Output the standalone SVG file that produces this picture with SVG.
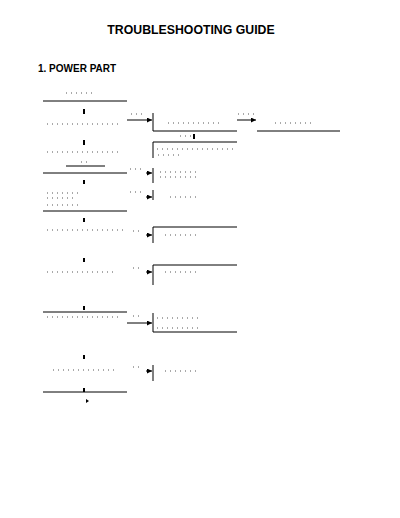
<svg xmlns="http://www.w3.org/2000/svg" width="400" height="518" viewBox="0 0 400 518">
<style>
.ln{stroke:#000;stroke-width:1;fill:none}
.sp{stroke:#555;stroke-width:1;stroke-dasharray:1 4;fill:none}
.dn{fill:#000}
.title{font-family:"Liberation Sans",Arial,sans-serif;font-weight:bold;fill:#000}
</style>
<defs>
<marker id="ah" viewBox="0 0 6 6" refX="6" refY="3" markerWidth="5" markerHeight="5" orient="auto"><path d="M0,0 L6,3 L0,6 z" fill="#000"/></marker>
</defs>
<rect width="400" height="518" fill="#fff"/>
<text class="title" x="191" y="34" font-size="12.3" text-anchor="middle">TROUBLESHOOTING GUIDE</text>
<text class="title" x="38" y="72" font-size="10">1. POWER PART</text>

<g id="left-column">
<g id="L1"><path class="sp" d="M66,93 H95"/><path class="ln" d="M43,101 H127"/></g>
<g id="L2"><rect class="dn" x="83" y="109" width="2" height="5"/><path class="sp" d="M47,124 H120"/></g>
<g id="L3"><rect class="dn" x="83" y="140" width="2" height="5"/><path class="sp" d="M47,152 H120"/><path class="sp" d="M81,162 H88"/><path class="ln" d="M66,166 H105"/><path class="ln" d="M43,173 H127"/></g>
<g id="L4"><rect class="dn" x="83" y="180" width="2" height="4"/><path class="sp" d="M47,193 H78"/><path class="sp" d="M47,198 H75"/><path class="sp" d="M47,205 H80"/><path class="ln" d="M43,211 H127"/></g>
<g id="L5"><rect class="dn" x="83" y="218" width="2" height="4"/><path class="sp" d="M47,230 H127"/></g>
<g id="L6"><rect class="dn" x="83" y="258" width="2" height="4"/><path class="sp" d="M47,272 H117"/></g>
<g id="L7"><rect class="dn" x="83" y="306" width="2" height="4"/><path class="ln" d="M43,312 H127"/><path class="sp" d="M47,317 H118"/></g>
<g id="L8"><rect class="dn" x="83" y="355" width="2" height="4"/><path class="sp" d="M53,370 H115"/></g>
<g id="L9"><rect class="dn" x="83" y="388" width="2" height="4"/><path class="ln" d="M43,392 H127"/><path d="M86,399 L89,401 L86,403 z" fill="#000"/></g>
</g>

<g id="box-A"><path class="ln" d="M153,113 V131 H237"/><path class="sp" d="M168,123 H220"/></g>
<g id="box-R"><path class="ln" d="M257,131 H340"/><path class="sp" d="M275,123 H315"/></g>
<g id="box-B"><path class="ln" d="M153,158 V142 H237"/><path class="ln" d="M153,168 V183"/><path class="ln" d="M153,190 V200"/><path class="sp" d="M180,136 H192"/><rect class="dn" x="193" y="134" width="2" height="5"/><path class="sp" d="M157,149 H235"/><path class="sp" d="M158,155 H180"/><path class="sp" d="M160,172 H200"/><path class="sp" d="M160,177 H200"/><path class="sp" d="M170,197 H200"/></g>
<g id="box-C"><path class="ln" d="M153,243 V227 H237"/><path class="sp" d="M165,235 H200"/></g>
<g id="box-D"><path class="ln" d="M153,265 V285"/><path class="ln" d="M153,265 H237"/><path class="sp" d="M165,272 H200"/></g>
<g id="box-E"><path class="ln" d="M153,313 V332 H237"/><path class="sp" d="M157,318 H200"/><path class="sp" d="M157,328 H200"/></g>
<g id="box-F"><path class="ln" d="M153,365 V381"/><path class="sp" d="M165,371 H200"/></g>

<g id="connectors">
<path class="ln" d="M127,120 H152" marker-end="url(#ah)"/>
<path class="ln" d="M237,120 H256" marker-end="url(#ah)"/>
<path class="ln" d="M146,173 H152" marker-end="url(#ah)"/>
<path class="ln" d="M146,197 H152" marker-end="url(#ah)"/>
<path class="ln" d="M146,235 H152" marker-end="url(#ah)"/>
<path class="ln" d="M146,272 H152" marker-end="url(#ah)"/>
<path class="ln" d="M127,323 H152" marker-end="url(#ah)"/>
<path class="ln" d="M146,371 H152" marker-end="url(#ah)"/>
<path class="sp" d="M131,114 H146"/><path class="sp" d="M238,114 H254"/>
<path class="sp" d="M130,169 H142"/><path class="sp" d="M130,192 H142"/>
<path class="sp" d="M133,231 H140"/><path class="sp" d="M133,268 H140"/>
<path class="sp" d="M133,316 H140"/><path class="sp" d="M133,367 H140"/>
</g>
</svg>
